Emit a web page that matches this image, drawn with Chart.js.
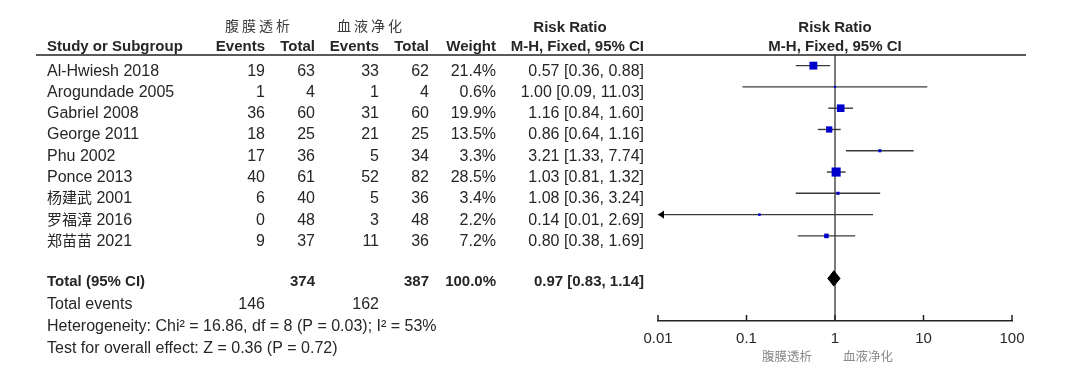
<!DOCTYPE html>
<html><head><meta charset="utf-8">
<script src="https://cdn.jsdelivr.net/npm/chart.js@4"></script>
<style>html,body{margin:0;padding:0;background:#fff;}canvas{display:block}</style>
</head><body>
<canvas id="c" width="1088" height="383"></canvas>
<script>
// ---------- data ----------
const studies  = ['Al-Hwiesh 2018','Arogundade 2005','Gabriel 2008','George 2011','Phu 2002','Ponce 2013','杨建武 2001','罗福漳 2016','郑苗苗 2021'];
const pdEvents = [19, 1, 36, 18, 17, 40, 6, 0, 9];
const pdTotal  = [63, 4, 60, 25, 36, 61, 40, 48, 37];
const hdEvents = [33, 1, 31, 21, 5, 52, 5, 3, 11];
const hdTotal  = [62, 4, 60, 25, 34, 82, 36, 48, 36];
const weights  = [21.4, 0.6, 19.9, 13.5, 3.3, 28.5, 3.4, 2.2, 7.2];
const rr       = [0.57, 1.00, 1.16, 0.86, 3.21, 1.03, 1.08, 0.14, 0.80];
const ciLow    = [0.36, 0.09, 0.84, 0.64, 1.33, 0.81, 0.36, 0.01, 0.38];
const ciHigh   = [0.88, 11.03, 1.60, 1.16, 7.74, 1.32, 3.24, 2.69, 1.69];
const totalPd = 374, totalHd = 387, totalWeight = 100.0;
const totalRR = 0.97, totalLow = 0.83, totalHigh = 1.14;
const eventsPd = 146, eventsHd = 162;
const xTicks = [0.01, 0.1, 1, 10, 100];
const xTickLabels = ['0.01', '0.1', '1', '10', '100'];
const groupLabels = ['腹膜透析', '血液净化'];
const heterogeneityText = 'Heterogeneity: Chi² = 16.86, df = 8 (P = 0.03); I² = 53%';
const overallText = 'Test for overall effect: Z = 0.36 (P = 0.72)';
const totalRow = 10;

// ---------- styles ----------
const LAT = '"Liberation Sans", Arial, sans-serif';
const CJK = '"Noto Sans CJK SC", sans-serif';
const TXT = '#262626';
const Y_MIN = -0.5, Y_MAX = 12;

const arrowImg = document.createElement('canvas');
arrowImg.width = 14; arrowImg.height = 9;
(function(){ const a = arrowImg.getContext('2d'); a.fillStyle = '#000'; a.beginPath(); a.moveTo(7,4.5); a.lineTo(13,0.5); a.lineTo(13,8.5); a.closePath(); a.fill(); })();

const datasets = [];
// null line
datasets.push({type:'line', data:[{x:1,y:Y_MIN},{x:1,y:Y_MAX}], borderColor:'#222', borderWidth:1.2, pointRadius:0, order:5, clip:false});
// CI lines
studies.forEach((s,i)=>{
  datasets.push({type:'line', data:[{x:Math.max(ciLow[i],xTicks[0]),y:i},{x:Math.min(ciHigh[i],xTicks[xTicks.length-1]),y:i}],
    borderColor:'#3a3a3a', borderWidth:1.4, pointRadius:0, order:4});
});
// arrows for clipped CIs
datasets.push({type:'scatter', data: studies.map((s,i)=> ciLow[i] <= xTicks[0] ? {x:xTicks[0], y:i} : null).filter(Boolean),
  pointStyle: arrowImg, pointRadius:5, order:2, clip:false});
// squares
datasets.push({type:'scatter', data: studies.map((s,i)=>({x:rr[i], y:i})),
  pointStyle:'rect', pointRadius: weights.map(w => Math.max(2.2, 1.7*Math.sqrt(w))/1.414),
  backgroundColor:'#0000cc', borderWidth:0, pointBorderWidth:0, order:1});
// diamond
const dh = 0.36;
datasets.push({type:'line', data:[{x:totalLow,y:totalRow},{x:totalRR,y:totalRow-dh},{x:totalHigh,y:totalRow},{x:totalRR,y:totalRow+dh},{x:totalLow,y:totalRow}],
  borderColor:'#000', backgroundColor:'#000', borderWidth:1, fill:'shape', pointRadius:0, order:0});

function fmt(v){ return v.toFixed(2); }

function drawMixed(c, text, x, y, latFont, cjkFont){
  const runs = text.match(/[\u3400-\u9fff]+|[^\u3400-\u9fff]+/g) || [];
  let cx = x;
  c.textAlign = 'left';
  runs.forEach(r=>{
    c.font = /[\u3400-\u9fff]/.test(r) ? cjkFont : latFont;
    c.fillText(r, cx, y);
    cx += c.measureText(r).width;
  });
}

const tablePlugin = {
  id:'table',
  afterDraw(chart){
    const c = chart.ctx, ys = chart.scales.y, xs = chart.scales.x, ca = chart.chartArea;
    c.save();
    c.fillStyle = TXT;
    c.textBaseline = 'alphabetic';
    const R = (t,x,y)=>{ c.textAlign='right'; c.fillText(t,x,y); };
    const L = (t,x,y)=>{ c.textAlign='left'; c.fillText(t,x,y); };
    const C = (t,x,y)=>{ c.textAlign='center'; c.fillText(t,x,y); };
    const col = {study:47, e1:265, t1:315, e2:379, t2:429, w:496, ci:644};
    const xOne = xs.getPixelForValue(1);

    // header row 1
    c.font = '14px ' + CJK; c.fillStyle = '#3a3a3a';
    if ('letterSpacing' in c) c.letterSpacing = '3px';
    C(groupLabels[0], 259, 31); C(groupLabels[1], 371, 31);
    if ('letterSpacing' in c) c.letterSpacing = '0px';
    c.fillStyle = TXT;
    c.font = 'bold 15px ' + LAT;
    C('Risk Ratio', 570, 32); C('Risk Ratio', xOne, 32);
    // header row 2
    L('Study or Subgroup', col.study, 51);
    R('Events', col.e1, 51); R('Total', col.t1, 51); R('Events', col.e2, 51); R('Total', col.t2, 51);
    R('Weight', col.w, 51); R('M-H, Fixed, 95% CI', col.ci, 51); C('M-H, Fixed, 95% CI', xOne, 51);
    // header line
    c.strokeStyle = '#222'; c.lineWidth = 1.5;
    c.beginPath(); c.moveTo(36, ca.top); c.lineTo(1026, ca.top); c.stroke();

    // study rows
    studies.forEach((s,i)=>{
      const y = ys.getPixelForValue(i) + 10;
      drawMixed(c, s, col.study, y, '16px ' + LAT, '15px ' + CJK);
      c.font = '16px ' + LAT;
      R(String(pdEvents[i]), col.e1, y); R(String(pdTotal[i]), col.t1, y);
      R(String(hdEvents[i]), col.e2, y); R(String(hdTotal[i]), col.t2, y);
      R(weights[i].toFixed(1) + '%', col.w, y);
      R(fmt(rr[i]) + ' [' + fmt(ciLow[i]) + ', ' + fmt(ciHigh[i]) + ']', col.ci, y);
    });
    // total row
    let y = ys.getPixelForValue(totalRow) + 8;
    c.font = 'bold 15px ' + LAT;
    L('Total (95% CI)', col.study, y);
    R(String(totalPd), col.t1, y); R(String(totalHd), col.t2, y);
    R(totalWeight.toFixed(1) + '%', col.w, y);
    R(fmt(totalRR) + ' [' + fmt(totalLow) + ', ' + fmt(totalHigh) + ']', col.ci, y);
    c.font = '16px ' + LAT;
    y = 309;
    L('Total events', col.study, y); R(String(eventsPd), col.e1, y); R(String(eventsHd), col.e2, y);
    L(heterogeneityText, col.study, 331);
    L(overallText, col.study, 353);

    // axis ticks (pointing up)
    c.strokeStyle = '#222'; c.lineWidth = 1.5;
    xTicks.forEach(v=>{
      const px = xs.getPixelForValue(v);
      c.beginPath(); c.moveTo(px, ca.bottom); c.lineTo(px, ca.bottom - 6); c.stroke();
    });
    // favours labels
    c.font = '12.5px ' + CJK; c.fillStyle = '#8a8a8a';
    R(groupLabels[0], xOne - 23, 361);
    L(groupLabels[1], xOne + 8, 361);
    c.restore();
  }
};

new Chart(document.getElementById('c'), {
  data:{ datasets },
  options:{
    responsive:false, animation:false, devicePixelRatio:1,
    layout:{ padding:{ left:658, right:76, top:55, bottom:32 } },
    plugins:{ legend:{display:false}, tooltip:{enabled:false} },
    scales:{
      x:{ type:'logarithmic', min:xTicks[0], max:xTicks[xTicks.length-1], position:'bottom',
          grid:{ display:false, drawTicks:false },
          border:{ display:true, color:'#222', width:1.5 },
          afterBuildTicks: s => { s.ticks = xTicks.map(v=>({value:v})); },
          afterFit: s => { s.height = 30; },
          ticks:{ autoSkip:false, maxRotation:0, padding:9, color:TXT,
                  font:{ family:'"Liberation Sans", Arial, sans-serif', size:15 },
                  callback:(v,idx)=> xTickLabels[idx] } },
      y:{ type:'linear', min:Y_MIN, max:Y_MAX, reverse:true, display:false }
    }
  },
  plugins:[tablePlugin]
});
</script>
</body></html>
